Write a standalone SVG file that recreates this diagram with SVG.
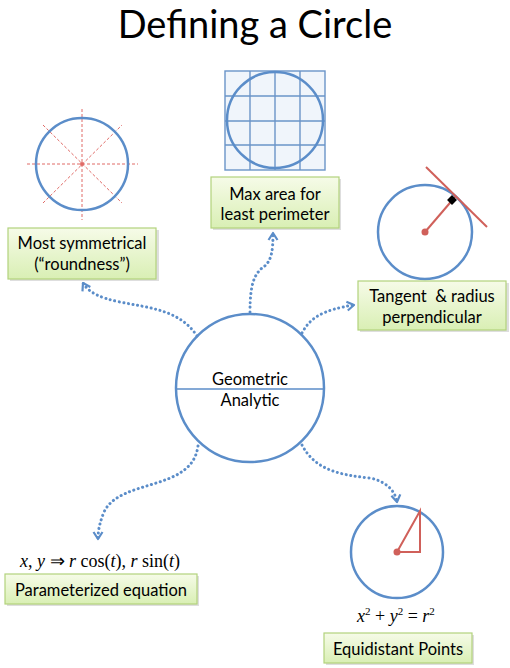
<svg xmlns="http://www.w3.org/2000/svg" width="510" height="668" viewBox="0 0 510 668">
<defs>
<linearGradient id="boxg" x1="0" y1="0" x2="0" y2="1">
<stop offset="0" stop-color="#f6fbe8"/>
<stop offset="1" stop-color="#d9efb4"/>
</linearGradient>
<marker id="arr" viewBox="0 0 12 12" refX="9" refY="6" markerWidth="12" markerHeight="12" markerUnits="userSpaceOnUse" orient="auto">
<path d="M2,1.5 L9,6 L2,10.5" fill="none" stroke="#5b8dc9" stroke-width="2.2" stroke-linejoin="round"/>
</marker>
</defs>
<style>
.t{font-family:Lato,"Open Sans",sans-serif;fill:#000;}
.box{fill:url(#boxg);stroke:#b2d27c;stroke-width:1.2;}
.sh{fill:#c8c8c8;opacity:0.6;}
.bc{fill:none;stroke:#5b8dc9;stroke-width:2.5;}
.con{fill:none;stroke:#5b8dc9;stroke-width:3;stroke-dasharray:0.1 4.5;stroke-linecap:round;}
.m{font-family:"Liberation Serif",serif;font-size:18px;fill:#000;}
.i{font-style:italic;}
</style>
<rect width="510" height="668" fill="#fff"/>
<text class="t" x="255" y="38" font-size="38" text-anchor="middle">Defining a Circle</text>

<g id="connectors">
<path class="con" d="M197,336 C180,310 150,308 120,302 C100,298 88,292 83,283" marker-end="url(#arr)"/>
<path class="con" d="M250,312 C250,285 254,275 262,268 C272,262 273,250 273,233" marker-end="url(#arr)"/>
<path class="con" d="M302,333 C310,318 322,310 354,305" marker-end="url(#arr)"/>
<path class="con" d="M198,446 C192,492 120,478 104,512 C100,522 98,530 98,539" marker-end="url(#arr)"/>
<path class="con" d="M302,445 C315,470 340,475 370,478 C385,481 395,490 397,502" marker-end="url(#arr)"/>
</g>

<g id="main">
<circle class="bc" cx="250" cy="388" r="74" fill="#fff"/>
<line x1="176" y1="389" x2="324" y2="389" stroke="#5b8dc9" stroke-width="1.5"/>
<text class="t" x="250" y="385" font-size="16.5" text-anchor="middle">Geometric</text>
<text class="t" x="250" y="406" font-size="16.5" text-anchor="middle">Analytic</text>
</g>

<g id="symmetry">
<g stroke="#e06a66" stroke-width="1" stroke-dasharray="3 2" fill="none">
<line x1="82" y1="109" x2="82" y2="220"/>
<line x1="27" y1="164" x2="138" y2="164"/>
<line x1="43" y1="203" x2="122" y2="125"/>
<line x1="43" y1="125" x2="122" y2="203"/>
</g>
<circle class="bc" cx="82" cy="164" r="46"/>
<circle cx="82" cy="164" r="2" fill="#e06a66"/>
<rect class="sh" x="10" y="230" width="149" height="51"/>
<rect class="box" x="8" y="228" width="148" height="51"/>
<text class="t" x="82" y="249" font-size="16.5" text-anchor="middle">Most symmetrical</text>
<text class="t" x="82" y="270" font-size="16.5" text-anchor="middle">(“roundness”)</text>
</g>

<g id="maxarea">
<rect x="225" y="71" width="100" height="99" fill="#f0f5fb"/>
<g stroke="#6a94c8" stroke-width="1.4" fill="none">
<rect x="225" y="71" width="100" height="99"/>
<line x1="250" y1="71" x2="250" y2="170"/>
<line x1="275" y1="71" x2="275" y2="170"/>
<line x1="300" y1="71" x2="300" y2="170"/>
<line x1="225" y1="96" x2="325" y2="96"/>
<line x1="225" y1="121" x2="325" y2="121"/>
<line x1="225" y1="145" x2="325" y2="145"/>
</g>
<circle class="bc" cx="275" cy="120" r="48"/>
<rect class="sh" x="213" y="179" width="128" height="51"/>
<rect class="box" x="211" y="177" width="128" height="51"/>
<text class="t" x="275" y="200" font-size="16.5" text-anchor="middle">Max area for</text>
<text class="t" x="275" y="220" font-size="16.5" text-anchor="middle">least perimeter</text>
</g>

<g id="tangent">
<circle class="bc" cx="425" cy="232" r="47"/>
<line x1="425" y1="232" x2="455" y2="197" stroke="#d0605a" stroke-width="2"/>
<line x1="426" y1="167" x2="487" y2="227" stroke="#d0605a" stroke-width="2"/>
<rect x="-3.5" y="-3.5" width="7" height="7" fill="#000" transform="translate(452,200) rotate(45)"/>
<circle cx="425" cy="232" r="3.5" fill="#d0605a"/>
<rect class="sh" x="360" y="283" width="149" height="49"/>
<rect class="box" x="358" y="281" width="148" height="49"/>
<text class="t" x="432" y="302" font-size="16.5" text-anchor="middle" xml:space="preserve">Tangent  &amp; radius</text>
<text class="t" x="432" y="323" font-size="16.5" text-anchor="middle">perpendicular</text>
</g>

<g id="parametric">
<text class="m" x="20" y="567"><tspan class="i">x</tspan>, <tspan class="i">y</tspan> ⇒ <tspan class="i">r</tspan> cos(<tspan class="i">t</tspan>), <tspan class="i">r</tspan> sin(<tspan class="i">t</tspan>)</text>
<rect class="sh" x="7" y="576" width="192" height="30"/>
<rect class="box" x="5" y="574" width="192" height="30"/>
<text class="t" x="101" y="596" font-size="16.5" text-anchor="middle">Parameterized equation</text>
</g>

<g id="equidistant">
<circle class="bc" cx="397" cy="552" r="46"/>
<path d="M397,552 L420,511 L420,552 Z" fill="none" stroke="#d0605a" stroke-width="2"/>
<circle cx="397" cy="552" r="3.5" fill="#d0605a"/>
<text class="m" x="357" y="622"><tspan class="i">x</tspan><tspan dy="-7" font-size="11">2</tspan><tspan dy="7"> + </tspan><tspan class="i">y</tspan><tspan dy="-7" font-size="11">2</tspan><tspan dy="7"> = </tspan><tspan class="i">r</tspan><tspan dy="-7" font-size="11">2</tspan></text>
<rect class="sh" x="326" y="635" width="148" height="30"/>
<rect class="box" x="324" y="633" width="148" height="30"/>
<text class="t" x="398" y="655" font-size="16.5" text-anchor="middle">Equidistant Points</text>
</g>
</svg>
